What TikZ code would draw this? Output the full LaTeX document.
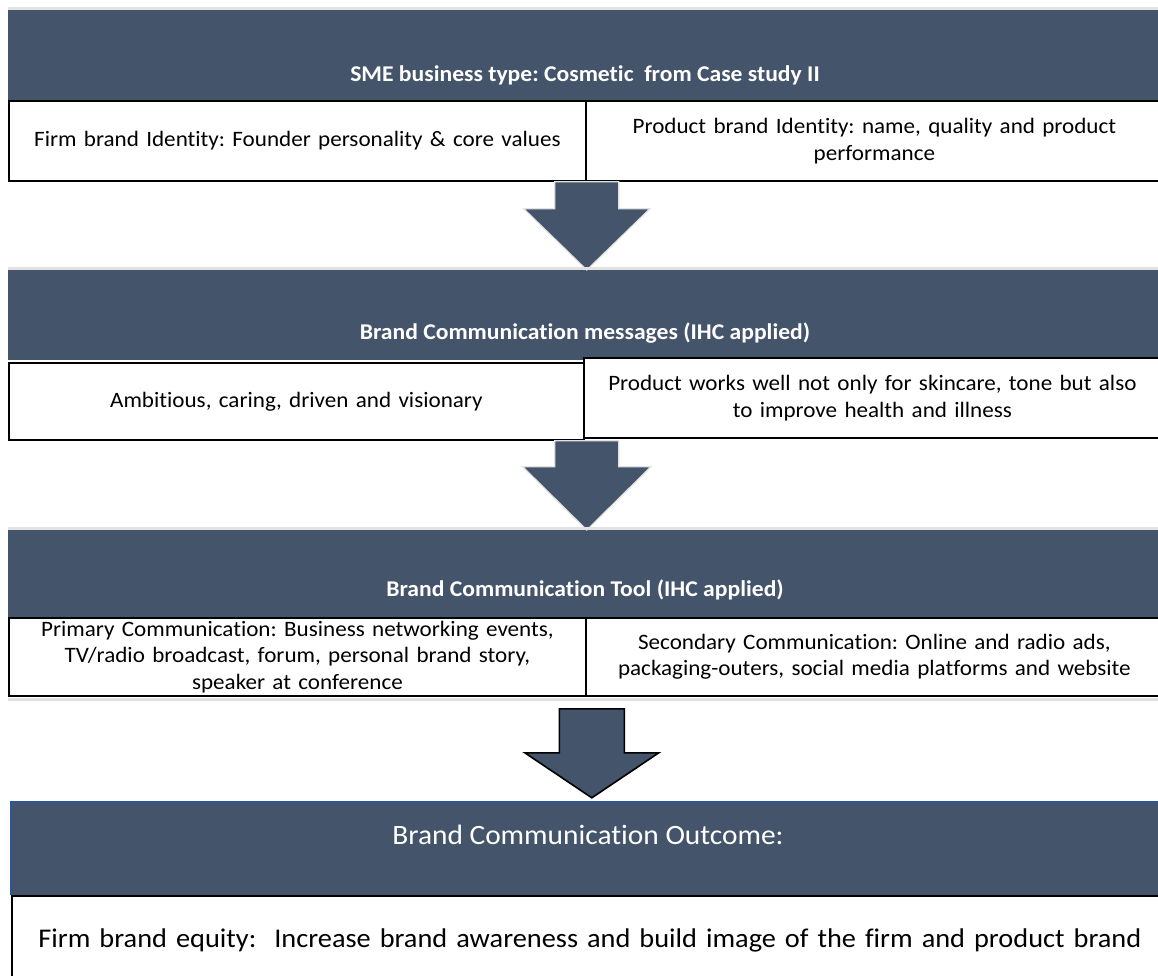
\documentclass[tikz,border=0pt]{standalone}
\usepackage{fontspec}
\setmainfont{Carlito}[Ligatures=NoCommon, FakeStretch=1.05]
\usetikzlibrary{calc}
\definecolor{hdr}{RGB}{68,84,106}
\definecolor{shade}{RGB}{226,226,226}
\definecolor{edgeblue}{RGB}{47,85,151}
\frenchspacing
\begin{document}
\begin{tikzpicture}[x=1pt,y=1pt,
  hdrbox/.style={fill=hdr, draw=none, anchor=north west, minimum width=1160pt, inner sep=0pt},
  hdrtext/.style={text=white, font=\fontsize{22.5}{26}\selectfont\bfseries, inner sep=0pt},
  bigtext/.style={font=\fontsize{28}{32}\selectfont, inner sep=0pt},
  cell/.style={draw=black, line width=1.8pt, fill=white, anchor=north west, align=center,
    inner sep=0pt, text width=565pt, minimum width=577pt, font=\fontsize{22}{26.5}\selectfont},
  shadeline/.style={draw=shade, line width=3pt},
  blockarrow/.style={fill=hdr, draw=shade, line width=1.2pt, line join=miter},
  blockarrowdark/.style={fill=hdr, draw=black, line width=1.6pt, line join=miter},
]
\useasboundingbox (0,0) rectangle (1158,-976);
\clip (0,0) rectangle (1158,-976);
\fill[white] (0,0) rectangle (1158,-976);

% ---------- Panel 1 ----------
\node[hdrbox, minimum height=90pt] (h1) at (8,-10) {};
\draw[shadeline] ($(h1.north west)+(0,1.5)$) -- ($(h1.north east)+(0,1.5)$);
\node[hdrtext] (h1t) at (585,-75) {SME business type: Cosmetic~ from Case study II};
\node[cell, minimum height=80pt] (c1l) at (8,-100) {Firm brand Identity: Founder personality \& core values};
\node[cell, minimum height=80pt] (c1r) at (585,-100) {Product brand Identity: name, quality and product\\performance};

% ---------- Arrow 1 ----------
\node[hdrbox, minimum height=90pt] (h2) at (8,-270) {};
\coordinate (a1top) at (c1l.south east);
\coordinate (a1tip) at (a1top |- h2.north);
\draw[blockarrow] ($(a1top)+(-32,0)$) -- ($(a1top)+(32,0)$) -- ($(a1top)+(32,-27)$)
  -- ($(a1top)+(63,-27)$) -- (a1tip) -- ($(a1top)+(-63,-27)$) -- ($(a1top)+(-32,-27)$) -- cycle;

% ---------- Panel 2 ----------
\draw[shadeline] ($(h2.north west)+(0,1.5)$) -- ($(h2.north east)+(0,1.5)$);
\node[hdrtext] (h2t) at (585,-333) {Brand Communication messages (IHC applied)};
\node[cell, minimum height=77pt, minimum width=575pt, text width=563pt] (c2l) at (8,-362) {Ambitious, caring, driven and visionary};
\node[cell, minimum height=80pt] (c2r) at (583,-357) {Product works well not only for skincare, tone but also\\to improve health and illness};

% ---------- Arrow 2 ----------
\node[hdrbox, minimum height=87pt] (h3) at (8,-530) {};
\coordinate (a2top) at ($(c2l.south east)+(2,0)$);
\coordinate (a2tip) at (a2top |- h3.north);
\draw[blockarrow] ($(a2top)+(-32,0)$) -- ($(a2top)+(32,0)$) -- ($(a2top)+(32,-26)$)
  -- ($(a2top)+(64,-26)$) -- (a2tip) -- ($(a2top)+(-64,-26)$) -- ($(a2top)+(-32,-26)$) -- cycle;

% ---------- Panel 3 ----------
\draw[shadeline] ($(h3.north west)+(0,1.5)$) -- ($(h3.north east)+(0,1.5)$);
\node[hdrtext] (h3t) at (585,-590) {Brand Communication Tool (IHC applied)};
\node[cell, minimum height=78pt] (c3l) at (8,-617) {Primary Communication: Business networking events,\\TV/radio broadcast, forum, personal brand story,\\speaker at conference};
\node[cell, minimum height=78pt] (c3r) at (585,-617) {Secondary Communication: Online and radio ads,\\packaging-outers, social media platforms and website};
\draw[shadeline] ($(c3l.south west)+(0,-3)$) -- ($(c3r.south east)+(0,-3)$);

% ---------- Arrow 3 ----------
\node[hdrbox, minimum height=93pt] (h4) at (11,-802) {};
\coordinate (a3top) at ($(c3l.south east)+(5,-12)$);
\coordinate (a3tip) at ($(a3top)+(0,-89)$);
\draw[blockarrowdark] ($(a3top)+(-32.5,0)$) -- ($(a3top)+(32.5,0)$) -- ($(a3top)+(32.5,-44)$)
  -- ($(a3top)+(67,-44)$) -- (a3tip) -- ($(a3top)+(-67,-44)$) -- ($(a3top)+(-32.5,-44)$) -- cycle;

% ---------- Panel 4 ----------
\draw[edgeblue, line width=1.5pt] (h4.south west) -- (h4.north west) -- (h4.north east);
\node[bigtext, text=white] (h4t) at (588,-835) {Brand Communication Outcome:};
\node[cell, minimum height=90pt, minimum width=1156pt, text width=1150pt, font=\fontsize{27}{31}\selectfont] (c4) at (11,-895) {Firm brand equity:~ Increase brand awareness and build image of the firm and product brand};
\end{tikzpicture}
\end{document}
